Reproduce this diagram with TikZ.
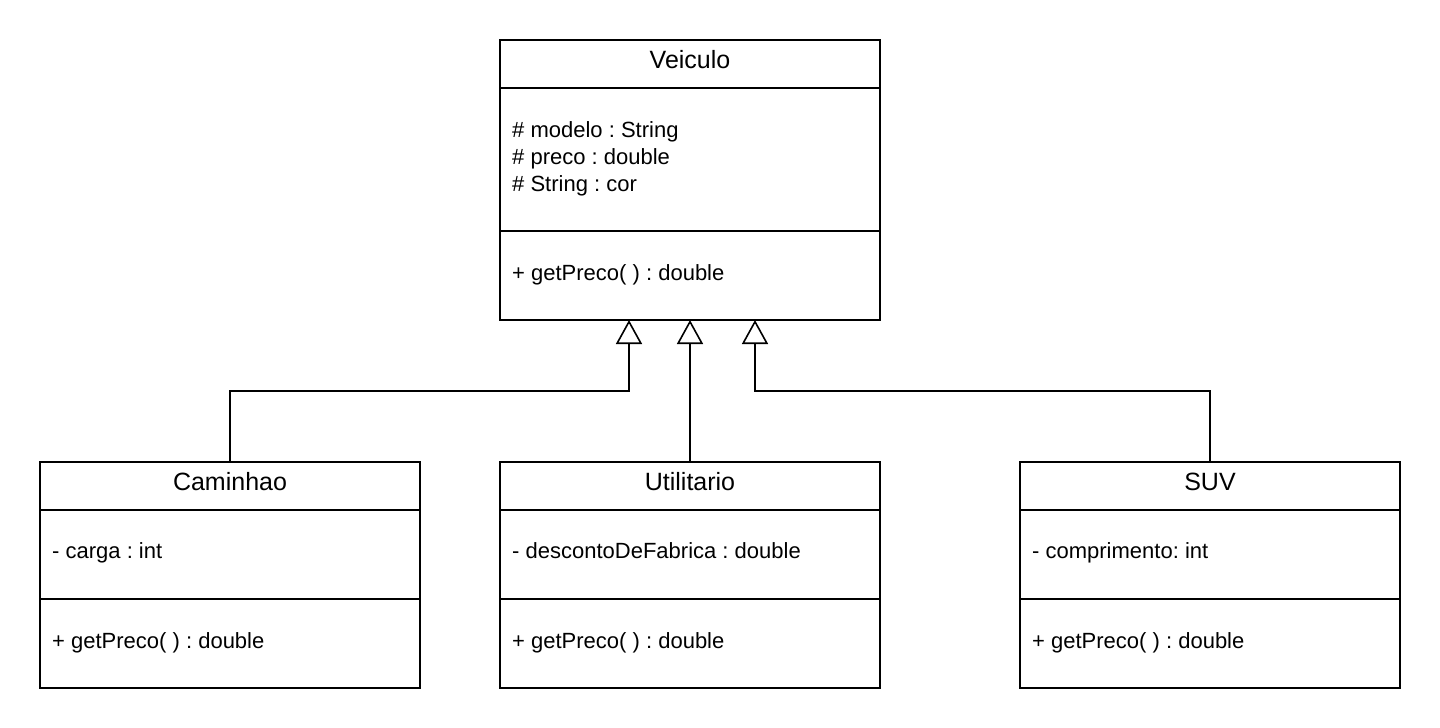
\documentclass[tikz,border=0pt]{standalone}
\usepackage{fontspec}
\setmainfont{Liberation Sans}
\usetikzlibrary{arrows.meta}
\frenchspacing
\begin{document}
\begin{tikzpicture}[x=1pt,y=-1pt,
  classbox/.style={draw=black,line width=1.6pt,fill=white},
  divider/.style={draw=black,line width=1.6pt},
  titletext/.style={anchor=base,inner sep=0pt,font=\fontsize{25}{30}\selectfont},
  bodytext/.style={anchor=base west,inner sep=0pt,font=\fontsize{22}{27}\selectfont},
  inherit/.style={draw=black,line width=1.6pt,-{Triangle[open,length=24pt,width=26pt]}}]
\useasboundingbox[fill=white] (0,0) rectangle (1440,728);

% Veiculo
\draw[classbox] (500,40) rectangle (880,320);
\node[minimum width=380pt,minimum height=280pt,inner sep=0pt] (veiculo) at (690,180) {};
\draw[divider] (500,88) -- (880,88);
\draw[divider] (500,231) -- (880,231);
\node[titletext] (vt) at (690,68) {Veiculo};
\node[bodytext] (va1) at (512,137) {\# modelo : String};
\node[bodytext] (va2) at (512,164) {\# preco : double};
\node[bodytext] (va3) at (512,191) {\# String : cor};
\node[bodytext] (vm) at (512,280) {+ getPreco( ) : double};

% Caminhao
\draw[classbox] (40,462) rectangle (420,688);
\node[minimum width=380pt,minimum height=226pt,inner sep=0pt] (caminhao) at (230,575) {};
\draw[divider] (40,510) -- (420,510);
\draw[divider] (40,599) -- (420,599);
\node[titletext] (ct) at (230,490) {Caminhao};
\node[bodytext] (ca) at (52,558) {- carga : int};
\node[bodytext] (cm) at (52,648) {+ getPreco( ) : double};

% Utilitario
\draw[classbox] (500,462) rectangle (880,688);
\node[minimum width=380pt,minimum height=226pt,inner sep=0pt] (utilitario) at (690,575) {};
\draw[divider] (500,510) -- (880,510);
\draw[divider] (500,599) -- (880,599);
\node[titletext] (ut) at (690,490) {Utilitario};
\node[bodytext] (ua) at (512,558) {- descontoDeFabrica : double};
\node[bodytext] (um) at (512,648) {+ getPreco( ) : double};

% SUV
\draw[classbox] (1020,462) rectangle (1400,688);
\node[minimum width=380pt,minimum height=226pt,inner sep=0pt] (suv) at (1210,575) {};
\draw[divider] (1020,510) -- (1400,510);
\draw[divider] (1020,599) -- (1400,599);
\node[titletext] (st) at (1210,490) {SUV};
\node[bodytext] (sa) at (1032,558) {- comprimento: int};
\node[bodytext] (sm) at (1032,648) {+ getPreco( ) : double};

% inheritance
\coordinate (t1) at (629,320);
\coordinate (t2) at (690,320);
\coordinate (t3) at (755,320);
\draw[inherit] (caminhao.north) -- (230,391) -- (629,391) -- (t1);
\draw[inherit] (utilitario.north) -- (t2);
\draw[inherit] (suv.north) -- (1210,391) -- (755,391) -- (t3);
\end{tikzpicture}
\end{document}
